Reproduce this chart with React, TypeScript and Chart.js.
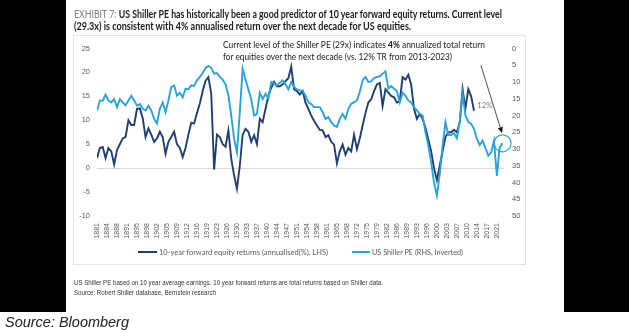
import React, { useEffect, useRef } from "react";
import { Chart, registerables } from "chart.js";
Chart.register(...registerables);

// ---------- DATA ----------
const RET_LABEL = "10-year forward equity returns (annualised(%), LHS)";
const PE_LABEL = "US Shiller PE (RHS, Inverted)";

const PE_START_YEAR = 1881;
const PE_VALUES = [
  18.5, 15.5, 15.6, 13.8, 15.5, 16.1, 15.1, 17.5, 15.1, 16.1,
  17.0, 15.5, 14.1, 15.5, 17.1, 16.6, 18.0, 18.5, 17.1, 18.5,
  21.0, 22.4, 18.0, 16.1, 19.0, 15.5, 11.5, 11.0, 14.1, 13.2,
  14.6, 12.0, 12.2, 11.0, 11.2, 9.5, 8.5, 7.3, 5.8, 5.2,
  5.8, 7.5, 7.3, 8.5, 9.3, 10.7, 14.0, 20.0, 27.0, 31.0,
  19.0, 6.0, 9.3, 12.2, 15.1, 20.0, 19.5, 13.2, 15.1, 13.5,
  15.0, 10.0, 10.5, 11.0, 10.2, 9.5, 10.7, 12.2, 10.0, 11.5,
  12.2, 12.5, 12.7, 14.0, 16.1, 16.6, 17.5, 17.5, 17.5, 19.0,
  21.0, 20.5, 22.0, 23.0, 23.4, 21.0, 19.5, 21.0, 18.0, 16.5,
  16.1, 15.5, 13.0, 9.5, 8.5, 10.0, 9.8, 8.8, 8.5, 8.3,
  7.5, 6.8, 12.0, 11.2, 12.0, 12.7, 16.1, 13.2, 14.1, 15.5,
  16.1, 17.5, 18.5, 19.5, 20.0, 25.0, 29.0, 34.0, 40.0, 43.9,
  37.5, 29.0, 22.0, 25.8, 25.8, 25.3, 26.8, 22.0, 13.5, 20.0,
  21.9, 22.5, 24.0, 27.0, 28.8, 27.5, 29.7, 32.0, 31.0, 27.5,
  38.0, 29.5, 28.3,
];

const RET_START_YEAR = 1881;
const RET_VALUES = [
  2.1, 4.2, 4.4, 2.1, 4.2, 3.5, 0.8, 3.8, 5.0, 6.2,
  6.5, 10.0, 9.0, 9.0, 12.4, 12.5, 10.5, 6.5, 8.3, 7.0,
  5.5, 6.2, 7.6, 6.5, 3.0, 5.5, 6.5, 7.6, 5.0, 4.2,
  2.3, 4.2, 7.0, 9.5, 9.3, 11.5, 13.5, 16.1, 18.2, 19.0,
  15.5, -0.3, 7.0, 6.5, 5.0, 4.5, 7.9, 2.0, -1.5, -4.3,
  0.5, 7.0, 8.2, 7.6, 5.5, 6.9, 5.0, 10.3, 9.6, 12.4,
  15.1, 16.8, 18.0, 17.1, 17.1, 17.5, 18.2, 18.8, 21.2, 16.5,
  16.1, 15.4, 16.1, 13.7, 12.4, 11.0, 9.9, 8.9, 8.0, 7.9,
  6.5, 6.9, 5.5, 4.9, 1.0, 3.5, 4.9, 2.8, 4.2, 3.5,
  7.0, 4.0, 6.2, 8.9, 11.5, 13.7, 14.4, 16.1, 17.5, 17.8,
  13.0, 16.5, 15.8, 15.1, 14.8, 13.7, 14.0, 19.0, 18.5, 19.5,
  17.5, 12.4, 10.3, 11.3, 10.3, 8.5, 6.0, 3.5, 0.0, -2.5,
  0.5, 3.5, 6.5, 7.5, 7.5, 8.0, 7.5, 9.5, 16.5, 12.5,
  16.5, 15.0, 12.0,
];

const X_TICK_LABELS = [
  "1881", "1884", "1888", "1891", "1895", "1898", "1902", "1905", "1909", "1912",
  "1916", "1919", "1923", "1926", "1930", "1933", "1937", "1940", "1944", "1947",
  "1951", "1954", "1958", "1961", "1965", "1968", "1972", "1975", "1979", "1982",
  "1986", "1989", "1993", "1996", "2000", "2003", "2007", "2010", "2014", "2017",
  "2021",
];
const X_TICK_STEP_YEARS = 3.5;

const LEFT_MIN = -10, LEFT_MAX = 25, LEFT_STEP = 5;
const RIGHT_MIN = 0, RIGHT_MAX = 50, RIGHT_STEP = 5;

const RET_END_LABEL = "12%";
const RET_END_LABEL_POS = { x: 2016.8, y: 13.1 };
const ARROW_START = { x: 2015.4, y: 5.0 }; // x year, y right-axis value

// ---------- STYLE ----------
const DARK = "#1f3e72";
const LIGHT = "#2aa2da";
const TICK_COLOR = "#595959";
const FONT = "'Liberation Sans', Arial, sans-serif";
const TEXT_FONT = "Lato, 'Open Sans', sans-serif";

const overlayPlugin = {
  id: "overlay",
  afterDatasetsDraw(chart: any) {
    const { ctx, scales } = chart;
    const xs = scales.x, yl = scales.yL, yr = scales.yR;
    ctx.save();
    // 12% label
    ctx.font = `8px ${TEXT_FONT}`;
    ctx.fillStyle = "#7f7f7f";
    ctx.textAlign = "center";
    ctx.textBaseline = "middle";
    ctx.fillText(
      RET_END_LABEL,
      xs.getPixelForValue(RET_END_LABEL_POS.x),
      yl.getPixelForValue(RET_END_LABEL_POS.y)
    );
    // circle around last PE point
    const lastIdx = PE_VALUES.length - 1;
    const cx = xs.getPixelForValue(PE_START_YEAR + lastIdx);
    const cy = yr.getPixelForValue(PE_VALUES[lastIdx]);
    const r = 8.5;
    ctx.strokeStyle = LIGHT;
    ctx.lineWidth = 1.2;
    ctx.beginPath();
    ctx.arc(cx, cy, r, 0, Math.PI * 2);
    ctx.stroke();
    // arrow
    const sx = xs.getPixelForValue(ARROW_START.x);
    const sy = yr.getPixelForValue(ARROW_START.y);
    const ex = cx - 0.5;
    const ey = cy - r - 1.5;
    const ang = Math.atan2(ey - sy, ex - sx);
    const head = 6;
    const hx = ex - head * Math.cos(ang);
    const hy = ey - head * Math.sin(ang);
    ctx.strokeStyle = "#222";
    ctx.lineWidth = 0.8;
    ctx.beginPath();
    ctx.moveTo(sx, sy);
    ctx.lineTo(hx, hy);
    ctx.stroke();
    ctx.fillStyle = "#111";
    ctx.beginPath();
    ctx.moveTo(ex, ey);
    ctx.lineTo(hx + 2.6 * Math.sin(ang), hy - 2.6 * Math.cos(ang));
    ctx.lineTo(hx - 2.6 * Math.sin(ang), hy + 2.6 * Math.cos(ang));
    ctx.closePath();
    ctx.fill();
    ctx.restore();
  },
};

export default function App() {
  const ref = useRef<HTMLCanvasElement>(null);

  useEffect(() => {
    const canvas = ref.current;
    if (!canvas) return;
    const chart = new Chart(canvas, {
      type: "line",
      data: {
        datasets: [
          {
            label: RET_LABEL,
            data: RET_VALUES.map((v, i) => ({ x: RET_START_YEAR + i, y: v })),
            borderColor: DARK,
            backgroundColor: DARK,
            borderWidth: 1.9,
            pointRadius: 0,
            tension: 0,
            yAxisID: "yL",
            order: 1,
          },
          {
            label: PE_LABEL,
            data: PE_VALUES.map((v, i) => ({ x: PE_START_YEAR + i, y: v })),
            borderColor: LIGHT,
            backgroundColor: LIGHT,
            borderWidth: 1.9,
            pointRadius: 0,
            tension: 0,
            yAxisID: "yR",
            order: 0,
          },
        ],
      },
      options: {
        animation: false,
        responsive: true,
        maintainAspectRatio: false,
        layout: { padding: { top: 9, left: 0, right: 0, bottom: 0 } },
        plugins: {
          legend: { display: false },
          tooltip: { enabled: false },
        },
        scales: {
          x: {
            type: "linear",
            min: PE_START_YEAR,
            max: PE_START_YEAR + PE_VALUES.length - 0.5,
            grid: { display: false, drawTicks: false },
            border: { display: false },
            afterBuildTicks: (s: any) => {
              s.ticks = X_TICK_LABELS.map((_, i) => ({
                value: PE_START_YEAR + i * X_TICK_STEP_YEARS,
              }));
            },
            afterFit: (s: any) => {
              s.height = 30;
            },
            ticks: {
              autoSkip: false,
              minRotation: 90,
              maxRotation: 90,
              padding: 7,
              color: TICK_COLOR,
              font: { size: 7, family: FONT },
              callback: (_v: any, i: number) => X_TICK_LABELS[i],
            },
          },
          yL: {
            type: "linear",
            position: "left",
            min: LEFT_MIN,
            max: LEFT_MAX,
            grid: {
              drawTicks: false,
              color: (c: any) => (c.tick && c.tick.value === 0 ? "#d9d9d9" : "rgba(0,0,0,0)"),
              lineWidth: 1,
            },
            border: { display: false },
            afterFit: (s: any) => {
              s.width = 24;
            },
            ticks: {
              stepSize: LEFT_STEP,
              padding: 7,
              color: TICK_COLOR,
              font: { size: 7.5, family: FONT },
            },
          },
          yR: {
            type: "linear",
            position: "right",
            reverse: true,
            min: RIGHT_MIN,
            max: RIGHT_MAX,
            grid: { display: false, drawTicks: false },
            border: { display: false },
            afterFit: (s: any) => {
              s.width = 22;
            },
            ticks: {
              stepSize: RIGHT_STEP,
              padding: 8,
              color: TICK_COLOR,
              font: { size: 7.5, family: FONT },
            },
          },
        },
      },
      plugins: [overlayPlugin],
    });
    return () => chart.destroy();
  }, []);

  return (
    <div
      style={{
        position: "fixed",
        left: 0,
        top: 0,
        width: 629,
        height: 333,
        background: "#fff",
        overflow: "hidden",
      }}
    >
      <div style={{ position: "absolute", left: 0, top: 0, width: 66, height: 312, background: "#000" }} />
      <div style={{ position: "absolute", left: 564, top: 0, width: 65, height: 312, background: "#000" }} />
      <div
        style={{
          position: "absolute",
          left: 73,
          top: 35,
          width: 453,
          height: 230,
          border: "1px solid #e3e3e3",
          boxSizing: "border-box",
        }}
      />
      <div style={{ position: "absolute", left: 73, top: 36, width: 453, height: 210 }}>
        <canvas ref={ref} />
      </div>
      <svg
        width={629}
        height={333}
        style={{ position: "absolute", left: 0, top: 0, pointerEvents: "none" }}
      >
        <text x={74} y={18} fontFamily={TEXT_FONT} fontSize={10.5} textLength={428} lengthAdjust="spacingAndGlyphs">
          <tspan fill="#808080" fontWeight={400}>EXHIBIT 7: </tspan>
          <tspan fill="#1a1a1a" fontWeight={700}>
            US Shiller PE has historically been a good predictor of 10 year forward equity returns. Current level
          </tspan>
        </text>
        <text x={74} y={30} fontFamily={TEXT_FONT} fontSize={10.5} fontWeight={700} fill="#1a1a1a" textLength={337} lengthAdjust="spacingAndGlyphs">
          (29.3x) is consistent with 4% annualised return over the next decade for US equities.
        </text>
        <text x={223} y={48} fontFamily={TEXT_FONT} fontSize={9} fill="#1a1a1a" textLength={262} lengthAdjust="spacingAndGlyphs">
          Current level of the Shiller PE (29x) indicates <tspan fontWeight={700}>4%</tspan> annualized total return
        </text>
        <text x={223} y={59.5} fontFamily={TEXT_FONT} fontSize={9} fill="#1a1a1a" textLength={229} lengthAdjust="spacingAndGlyphs">
          for equities over the next decade (vs. 12% TR from 2013-2023)
        </text>
        <rect x={138} y={251} width={19} height={2} fill={DARK} />
        <text x={159} y={254.5} fontFamily={TEXT_FONT} fontSize={8} fill={TICK_COLOR} textLength={169} lengthAdjust="spacingAndGlyphs">
          {RET_LABEL}
        </text>
        <rect x={352} y={251} width={18} height={2} fill={LIGHT} />
        <text x={372} y={254.5} fontFamily={TEXT_FONT} fontSize={8} fill={TICK_COLOR} textLength={91} lengthAdjust="spacingAndGlyphs">
          {PE_LABEL}
        </text>
        <text x={74} y={285} fontFamily={FONT} fontSize={6.3} fill="#333" textLength={309} lengthAdjust="spacingAndGlyphs">
          US Shiller PE based on 10 year average earnings. 10 year forward returns are total returns based on Shiller data.
        </text>
        <text x={74} y={295} fontFamily={FONT} fontSize={6.3} fill="#333" textLength={142} lengthAdjust="spacingAndGlyphs">
          Source: Robert Shiller database, Bernstein research
        </text>
        <text x={5} y={327} fontFamily={FONT} fontSize={14.5} fontStyle="italic" fill="#222" textLength={124} lengthAdjust="spacingAndGlyphs">
          Source: Bloomberg
        </text>
      </svg>
    </div>
  );
}
